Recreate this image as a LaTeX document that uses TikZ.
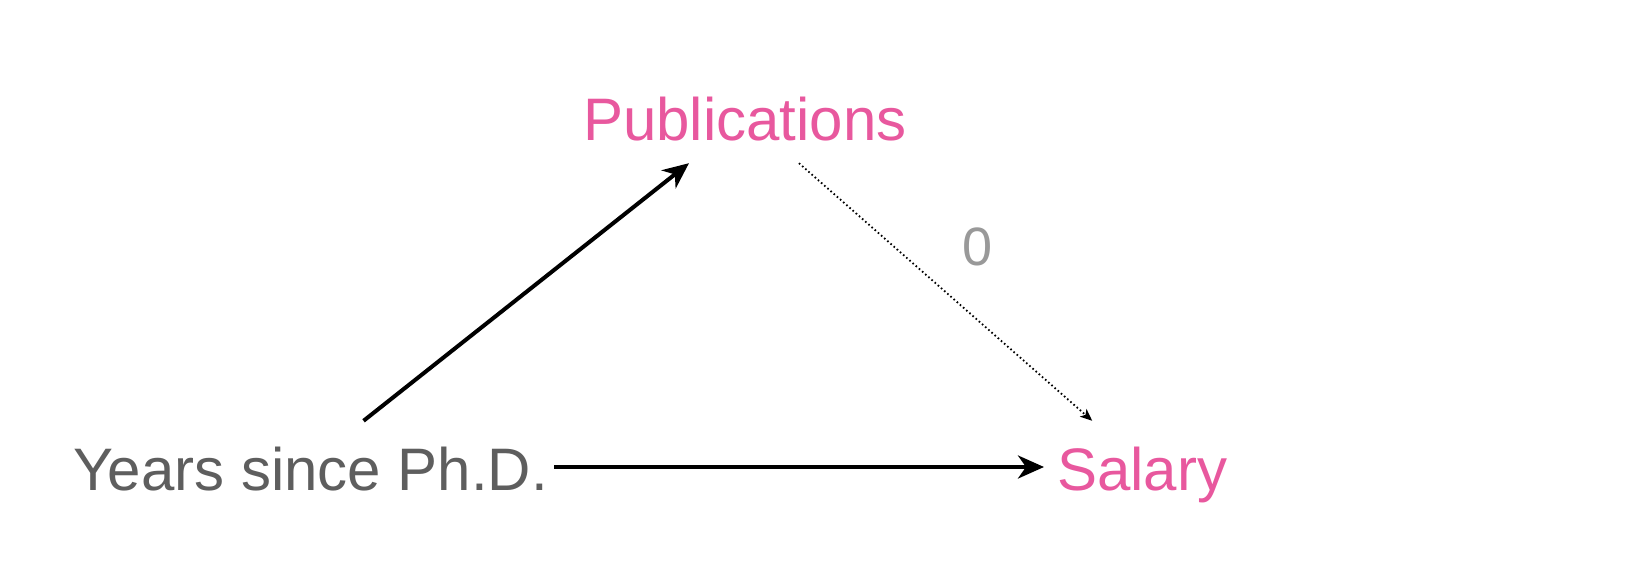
\documentclass[tikz,border=0pt]{standalone}
\usepackage{fontspec}
\setmainfont{Liberation Sans}
\usepackage{tikz}
\usetikzlibrary{arrows.meta}

\definecolor{pubpink}{RGB}{232,88,158}
\definecolor{txtgray}{RGB}{94,94,94}
\definecolor{zerogray}{RGB}{153,153,153}

\tikzset{
    var/.style={anchor=base west, inner xsep=13pt, inner ysep=23pt, text height=46pt, text depth=0pt, font=\fontsize{60}{72}\selectfont},
    effect/.style={line width=4pt, -{Stealth[length=26pt, width=23pt, inset=8pt]}},
    noeffect/.style={line width=1.8pt, dash pattern=on 1.6pt off 2.6pt, -{Stealth[length=12pt, width=10pt, inset=3pt]}}
}

\begin{document}
\begin{tikzpicture}[x=1pt, y=-1pt]
        \useasboundingbox (0,0) rectangle (1628,578);

        \node[var, text=txtgray] (years) at (60,490) {Years since Ph.D.};
        \node[var, text=pubpink] (pubs) at (570,140) {Publications};
        \node[var, text=pubpink] (salary) at (1044,490) {Salary};
        \node[text=zerogray, font=\fontsize{54}{64}\selectfont] (zero) at (978,247) {0};

        \draw[effect] ([xshift=53pt]years.north) -- ([xshift=-56pt]pubs.south);
        \draw[effect] ([xshift=-7pt]years.east) -- (salary.west);
        \draw[noeffect] ([xshift=54pt]pubs.south) -- ([xshift=-50pt]salary.north);
    \end{tikzpicture}
\end{document}
